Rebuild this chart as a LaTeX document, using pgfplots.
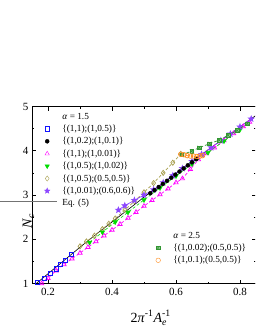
\documentclass[border=0pt]{standalone}
\usepackage{fontspec}
\setmainfont{Liberation Serif}
\usepackage{amsmath}
\usepackage{pgfplots}
\pgfplotsset{compat=1.18}
\usetikzlibrary{plotmarks}

\definecolor{cblue}{RGB}{20,20,255}
\definecolor{cmag}{RGB}{255,0,255}
\definecolor{cgreen}{RGB}{0,220,0}
\definecolor{colive}{RGB}{168,160,80}
\definecolor{cpurple}{RGB}{140,70,255}
\definecolor{cdgreen}{RGB}{50,150,50}
\definecolor{corange}{RGB}{255,140,30}

\pgfdeclareplotmark{fstar}{%
  \pgfpathmoveto{\pgfpointpolar{90}{1.2\pgfplotmarksize}}%
  \pgfpathlineto{\pgfpointpolar{126}{0.5\pgfplotmarksize}}%
  \pgfpathlineto{\pgfpointpolar{162}{1.2\pgfplotmarksize}}%
  \pgfpathlineto{\pgfpointpolar{198}{0.5\pgfplotmarksize}}%
  \pgfpathlineto{\pgfpointpolar{234}{1.2\pgfplotmarksize}}%
  \pgfpathlineto{\pgfpointpolar{270}{0.5\pgfplotmarksize}}%
  \pgfpathlineto{\pgfpointpolar{306}{1.2\pgfplotmarksize}}%
  \pgfpathlineto{\pgfpointpolar{342}{0.5\pgfplotmarksize}}%
  \pgfpathlineto{\pgfpointpolar{18}{1.2\pgfplotmarksize}}%
  \pgfpathlineto{\pgfpointpolar{54}{0.5\pgfplotmarksize}}%
  \pgfpathclose\pgfusepathqfillstroke}
\pgfdeclareplotmark{sqx}{%
  \pgfpathrectangle{\pgfpoint{-\pgfplotmarksize}{-\pgfplotmarksize}}{\pgfpoint{2\pgfplotmarksize}{2\pgfplotmarksize}}%
  \pgfusepathqfillstroke
  \pgfpathmoveto{\pgfpoint{-\pgfplotmarksize}{-\pgfplotmarksize}}\pgfpathlineto{\pgfpoint{\pgfplotmarksize}{\pgfplotmarksize}}%
  \pgfpathmoveto{\pgfpoint{-\pgfplotmarksize}{\pgfplotmarksize}}\pgfpathlineto{\pgfpoint{\pgfplotmarksize}{-\pgfplotmarksize}}%
  \pgfusepathqstroke}

\pgfplotsset{
  leg/.style={
    legend cell align=left,
    legend image code/.code={\path (-3pt,0) (13.3pt,0); \draw[##1] plot coordinates {(0pt,0pt)};},
  },
}

\begin{document}
\begin{tikzpicture}
\useasboundingbox (-32pt,-46.5pt) rectangle (223pt,283.5pt);
\clip (-32pt,-46.5pt) rectangle (223pt,283.5pt);
\begin{axis}[
  at={(0,0)}, anchor=south west, scale only axis,
  width=224pt, height=177pt,
  xmin=0.15, xmax=0.85, ymin=1, ymax=5,
  xtick={0.2,0.4,0.6,0.8}, ytick={1,2,3,4,5},
  minor xtick={0.3,0.5,0.7}, minor ytick={1.5,2.5,3.5,4.5},
  tick align=inside, major tick length=4pt, minor tick length=2pt,
  tick style={black, line width=0.6pt},
  axis line style={line width=0.8pt},
  ticklabel style={font=\fontsize{11}{12}\selectfont},
  /pgf/number format/assume math mode=true,
  xticklabel style={/pgf/number format/fixed, /pgf/number format/fixed zerofill, /pgf/number format/precision=1, yshift=-1.5pt},
  xlabel={2\textit{π}$^{\text{-1}}$\textit{A}$_{\text{\itshape e}}^{\text{-1}}$},
  xlabel style={at={(rel axis cs:0.53,0)}, anchor=base, yshift=-38.5pt, font=\fontsize{14}{16}\selectfont},
  ylabel={\textit{N}$_{\text{\itshape c}}$},
  ylabel style={at={(rel axis cs:0,0.45)}, anchor=base, xshift=-17pt, font=\fontsize{14}{16}\selectfont},
  leg,
  legend style={at={(rel axis cs:0,1)}, anchor=north west, xshift=12pt, yshift=-3.8pt,
    draw=none, fill=none, inner sep=0pt, outer sep=0pt, column sep=0pt, row sep=0pt,
    font=\fontsize{9.3}{10}\selectfont,
    nodes={inner sep=1.7pt, text height=7pt, text depth=2pt}},
]
% Eq. (5)
\addplot[black, line width=0.6pt, forget plot] coordinates {
(0.155,0.95)(0.20,1.22)(0.25,1.52)(0.30,1.82)(0.35,2.11)(0.40,2.39)(0.45,2.67)(0.50,2.95)
(0.55,3.22)(0.60,3.49)(0.65,3.76)(0.70,4.02)(0.75,4.28)(0.80,4.54)(0.85,4.80)};
% {(1,1);(1,0.01)} pink
\addplot[cmag, line width=0.7pt, dash pattern=on 3pt off 2pt, mark=triangle, mark size=2.5pt, mark options={solid}, forget plot] coordinates {
(0.18,1.00)(0.20,1.12)(0.225,1.29)(0.25,1.43)(0.275,1.56)(0.30,1.69)(0.325,1.82)(0.35,1.95)
(0.375,2.08)(0.40,2.21)(0.425,2.34)(0.45,2.48)(0.475,2.61)(0.50,2.75)(0.525,2.88)(0.55,3.01)
(0.575,3.14)(0.60,3.28)(0.62,3.37)(0.645,3.58)(0.67,3.80)(0.695,3.94)(0.72,4.07)(0.75,4.23)
(0.78,4.39)(0.81,4.55)(0.83,4.65)};
% {(1,0.5);(0.5,0.5)} olive
\addplot[colive, line width=0.7pt, dash pattern=on 3pt off 2pt, mark=diamond, mark size=2.6pt, mark options={solid}, forget plot] coordinates {
(0.30,1.84)(0.32,1.95)(0.345,2.08)(0.37,2.23)(0.39,2.35)(0.41,2.47)(0.44,2.66)(0.47,2.86)
(0.50,3.06)(0.53,3.27)(0.56,3.50)(0.59,3.73)(0.615,3.93)};
% {(1,0.5);(1,0.02)} green
\addplot[cgreen, line width=0.6pt, dash pattern=on 3pt off 2pt, mark=triangle*, mark size=2.5pt, mark options={solid, rotate=180}, forget plot] coordinates {
(0.33,1.93)(0.37,2.16)(0.41,2.39)(0.45,2.61)(0.50,2.89)(0.55,3.16)(0.60,3.43)(0.65,3.70)
(0.70,3.96)(0.75,4.22)(0.80,4.48)};
% {(1,0.01);(0.6,0.6)} purple
\addplot[cpurple, line width=0.7pt, mark=fstar, mark size=2.4pt, mark options={solid}, forget plot] coordinates {
(0.42,2.66)(0.44,2.76)(0.47,2.88)(0.50,3.00)(0.53,3.12)(0.56,3.28)(0.59,3.44)(0.62,3.60)
(0.65,3.76)(0.68,3.92)(0.71,4.07)(0.74,4.23)(0.77,4.38)(0.80,4.54)(0.835,4.72)};
% {(1,0.2);(1,0.1)} black
\addplot[black, only marks, mark=*, mark size=2pt, forget plot] coordinates {
(0.520,3.04)(0.533,3.11)(0.546,3.18)(0.559,3.25)(0.572,3.32)(0.585,3.39)(0.598,3.46)
(0.611,3.53)(0.624,3.60)(0.637,3.67)(0.650,3.74)(0.663,3.81)};
% {(1,1);(1,0.5)} blue
\addplot[cblue, only marks, mark=square, mark size=2.1pt, mark options={line width=0.7pt}, forget plot] coordinates {
(0.1666,1.02)(0.1875,1.12)(0.2084,1.23)(0.225,1.33)(0.239,1.43)(0.253,1.53)(0.272,1.66)};

\addlegendimage{empty legend}\addlegendentry{\textit{α} = 1.5}
\addlegendimage{cblue, only marks, mark=square, mark size=2.1pt, mark options={draw=cblue, line width=0.7pt}}\addlegendentry{\{(1,1);(1,0.5)\}}
\addlegendimage{black, only marks, mark=*, mark size=2pt}\addlegendentry{\{(1,0.2);(1,0.1)\}}
\addlegendimage{cmag, only marks, mark=triangle, mark size=2.5pt}\addlegendentry{\{(1,1);(1,0.01)\}}
\addlegendimage{cgreen, only marks, mark=triangle*, mark size=2.5pt, mark options={rotate=180}}\addlegendentry{\{(1,0.5);(1,0.02)\}}
\addlegendimage{colive, only marks, mark=diamond, mark size=2.6pt}\addlegendentry{\{(1,0.5);(0.5,0.5)\}}
\addlegendimage{cpurple, only marks, mark=fstar, mark size=2.4pt}\addlegendentry{\{(1,0.01);(0.6,0.6)\}}
\addlegendimage{legend image code/.code={\path (-3pt,0) (13.3pt,0); \draw[overlay, black!55, line width=1pt] (-48pt,0) -- (10pt,0);}}\addlegendentry{Eq. (5)}
\end{axis}

\begin{axis}[
  at={(0,0)}, anchor=south west, scale only axis,
  width=224pt, height=177pt,
  xmin=0.15, xmax=0.85, ymin=1, ymax=5,
  hide axis, leg,
  legend style={at={(rel axis cs:0,0)}, anchor=north west, xshift=123pt, yshift=54.2pt,
    draw=none, fill=none, inner sep=0pt, outer sep=0pt, column sep=0pt, row sep=0pt,
    font=\fontsize{9.3}{10}\selectfont,
    nodes={inner sep=1.7pt, text height=7pt, text depth=2pt}},
]
% alpha=2.5 {(1,0.02);(0.5,0.5)}
\addplot[cdgreen, line width=0.7pt, dash pattern=on 3pt off 2pt, mark=sqx, mark size=1.8pt, mark options={solid, fill=cdgreen!45}, forget plot] coordinates {
(0.618,3.91)(0.649,3.99)(0.673,4.07)(0.705,4.16)(0.735,4.24)(0.763,4.35)(0.791,4.46)(0.823,4.61)};
% alpha=2.5 {(1,0.1);(0.5,0.5)}
\addplot[corange, line width=0.7pt, dash pattern=on 3pt off 2pt, mark=o, mark size=2.3pt, mark options={solid}, forget plot] coordinates {
(0.615,3.92)(0.625,3.91)(0.635,3.89)(0.645,3.88)(0.655,3.88)(0.665,3.87)(0.675,3.88)(0.683,3.89)};

\addlegendimage{empty legend}\addlegendentry{\textit{α} = 2.5}
\addlegendimage{cdgreen, only marks, mark=sqx, mark size=1.8pt, mark options={fill=cdgreen!45}}\addlegendentry{\{(1,0.02);(0.5,0.5)\}}
\addlegendimage{corange, only marks, mark=o, mark size=2.3pt}\addlegendentry{\{(1,0.1);(0.5,0.5)\}}
\end{axis}
\end{tikzpicture}
\end{document}
